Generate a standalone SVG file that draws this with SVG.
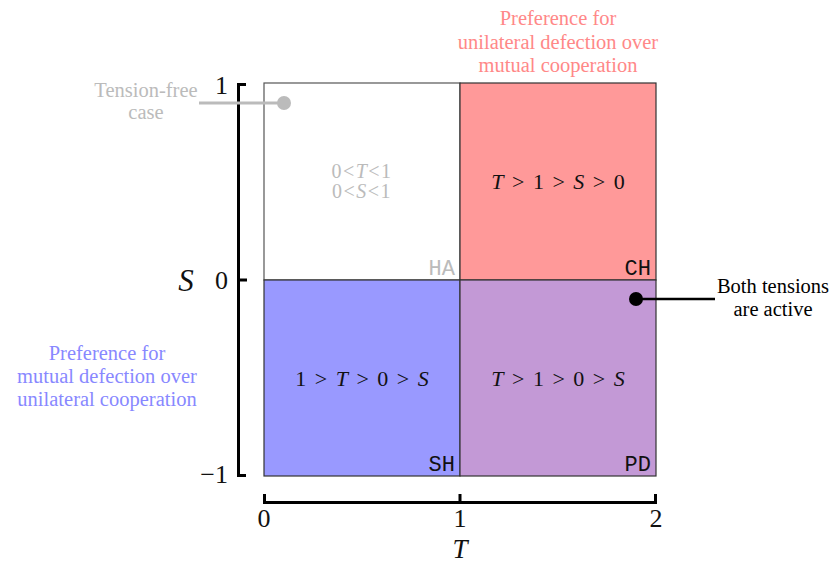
<svg xmlns="http://www.w3.org/2000/svg" width="833" height="565" viewBox="0 0 833 565">
<style>
.m{font-family:"Liberation Serif",serif;font-size:22px;fill:#111}
.q{word-spacing:3px}
.i{font-style:italic}
.tt{font-family:"Liberation Mono",monospace;font-size:22px;fill:#111;text-anchor:end}
.ann{font-family:"Liberation Serif",serif;font-size:20.5px;text-anchor:middle}
.ax{stroke:#000;stroke-width:3;fill:none}
.tick{font-family:"Liberation Serif",serif;font-size:26px;fill:#111}
.ha{fill:#bbb;font-size:20px;letter-spacing:1.5px}
</style>
<rect width="833" height="565" fill="#fff"/>
<g id="regions">
<g id="HA"><rect x="264" y="83" width="196" height="197" fill="#fff" stroke="#555" stroke-width="1.2"/>
<text class="m ha" x="362" y="178" text-anchor="middle">0&lt;<tspan class="i">T</tspan>&lt;1</text>
<text class="m ha" x="362" y="198" text-anchor="middle">0&lt;<tspan class="i">S</tspan>&lt;1</text>
<text class="tt" x="455" y="275" style="fill:#bbb">HA</text></g>
<g id="CH"><rect x="460" y="83" width="196" height="197" fill="#ff9999" stroke="#333" stroke-width="1.2"/>
<text class="m q" x="558" y="189" text-anchor="middle"><tspan class="i">T</tspan> &gt; 1 &gt; <tspan class="i">S</tspan> &gt; 0</text>
<text class="tt" x="651" y="275">CH</text></g>
<g id="SH"><rect x="264" y="280" width="196" height="196" fill="#9999ff" stroke="#333" stroke-width="1.2"/>
<text class="m q" x="362" y="386" text-anchor="middle">1 &gt; <tspan class="i">T</tspan> &gt; 0 &gt; <tspan class="i">S</tspan></text>
<text class="tt" x="455" y="471">SH</text></g>
<g id="PD"><rect x="460" y="280" width="196" height="196" fill="#c399d6" stroke="#333" stroke-width="1.2"/>
<text class="m q" x="558" y="386" text-anchor="middle"><tspan class="i">T</tspan> &gt; 1 &gt; 0 &gt; <tspan class="i">S</tspan></text>
<text class="tt" x="651" y="471">PD</text></g>
</g>
<g id="axes">
<path class="ax" d="M246 84.5 H238.5 V475.5 H246 M238.5 280 H247"/>
<path class="ax" d="M264.5 494 V502.5 H655.5 V494 M460 494 V502"/>
<text class="tick" x="228" y="94" text-anchor="end">1</text>
<text class="tick" x="228" y="289" text-anchor="end">0</text>
<text class="tick" x="228" y="483" text-anchor="end">−1</text>
<text class="tick i" x="186" y="291" text-anchor="middle" style="font-size:31px">S</text>
<text class="tick" x="264" y="527" text-anchor="middle">0</text>
<text class="tick" x="460" y="527" text-anchor="middle">1</text>
<text class="tick" x="656" y="527" text-anchor="middle">2</text>
<text class="tick i" x="460" y="558" text-anchor="middle" style="font-size:27px">T</text>
</g>
<g id="connectors">
<line x1="199" y1="103" x2="284" y2="103" stroke="#bbb" stroke-width="3"/>
<circle cx="284" cy="103" r="7" fill="#bbb"/>
<line x1="636" y1="299" x2="715" y2="299" stroke="#000" stroke-width="2.5"/>
<circle cx="636" cy="299" r="7" fill="#000"/>
</g>
<g id="annotations">
<g id="tension-free"><text class="ann" x="146" y="97" fill="#bbb">Tension-free</text><text class="ann" x="146" y="119" fill="#bbb">case</text></g>
<g id="both"><text class="ann" x="773" y="293" fill="#000">Both tensions</text><text class="ann" x="773" y="316" fill="#000">are active</text></g>
<g id="pref-red"><text class="ann" x="558" y="25" fill="#ff8888">Preference for</text><text class="ann" x="558" y="49" fill="#ff8888">unilateral defection over</text><text class="ann" x="558" y="72" fill="#ff8888">mutual cooperation</text></g>
<g id="pref-blue"><text class="ann" x="107" y="360" fill="#8888ff">Preference for</text><text class="ann" x="107" y="383" fill="#8888ff">mutual defection over</text><text class="ann" x="107" y="406" fill="#8888ff">unilateral cooperation</text></g>
</g>
</svg>
